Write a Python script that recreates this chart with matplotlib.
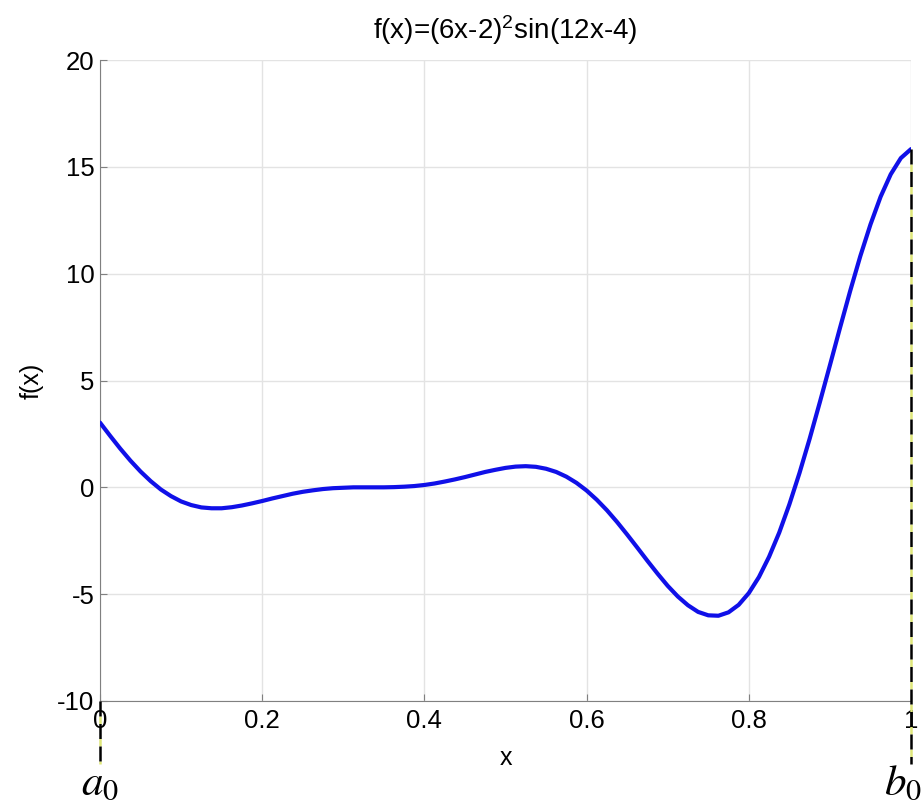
import matplotlib.pyplot as plt
import numpy as np

plt.rcParams['font.family'] = ['Liberation Sans', 'DejaVu Sans']
plt.rcParams['mathtext.fontset'] = 'stix'
plt.rcParams['axes.unicode_minus'] = False

# curve values
xs = [0.0, 0.0125, 0.025, 0.0375, 0.05, 0.0625, 0.075, 0.0875, 0.1, 0.1125,
      0.125, 0.1375, 0.15, 0.1625, 0.175, 0.1875, 0.2, 0.2125, 0.225, 0.2375,
      0.25, 0.2625, 0.275, 0.2875, 0.3, 0.3125, 0.325, 0.3375, 0.35, 0.3625,
      0.375, 0.3875, 0.4, 0.4125, 0.425, 0.4375, 0.45, 0.4625, 0.475, 0.4875,
      0.5, 0.5125, 0.525, 0.5375, 0.55, 0.5625, 0.575, 0.5875, 0.6, 0.6125,
      0.625, 0.6375, 0.65, 0.6625, 0.675, 0.6875, 0.7, 0.7125, 0.725, 0.7375,
      0.75, 0.7625, 0.775, 0.7875, 0.8, 0.8125, 0.825, 0.8375, 0.85, 0.8625,
      0.875, 0.8875, 0.9, 0.9125, 0.925, 0.9375, 0.95, 0.9625, 0.975, 0.9875,
      1.0]
fx = [3.03, 2.41, 1.81, 1.25, 0.74, 0.29, -0.10, -0.41, -0.66, -0.83,
      -0.94, -0.98, -0.98, -0.93, -0.85, -0.75, -0.64, -0.52, -0.41, -0.30,
      -0.21, -0.14, -0.08, -0.04, -0.02, 0.0, 0.0, 0.0, 0.0, 0.01,
      0.03, 0.06, 0.11, 0.18, 0.27, 0.37, 0.48, 0.60, 0.72, 0.82,
      0.91, 0.97, 0.99, 0.96, 0.87, 0.72, 0.50, 0.21, -0.15, -0.58,
      -1.07, -1.62, -2.21, -2.82, -3.44, -4.04, -4.61, -5.11, -5.52, -5.83,
      -5.99, -6.01, -5.85, -5.50, -4.95, -4.20, -3.25, -2.12, -0.80, 0.67,
      2.27, 3.97, 5.71, 7.47, 9.19, 10.82, 12.30, 13.60, 14.65, 15.41,
      15.83]

# bracket ends
a0 = 0.0
b0 = 1.0
marker_bottom = -12.95

xticks = [0, 0.2, 0.4, 0.6, 0.8, 1]
yticks = [-10, -5, 0, 5, 10, 15, 20]

fig = plt.figure(figsize=(9.22, 8.07), dpi=100)
ax = fig.add_axes([100/922, 1 - 701/807, 811/922, 641/807])

ax.plot(xs, fx, color='#1010e8', lw=3, zorder=3, solid_capstyle='round')

# dashed markers at the interval ends
ax.plot([a0, a0], [-10, marker_bottom], color='black', ls=(0, (6, 3)),
        gapcolor='#dfe77a', lw=1.8, clip_on=False, zorder=4)
ax.plot([b0, b0], [fx[-1], marker_bottom], color='black', ls=(0, (6, 3)),
        gapcolor='#dfe77a', lw=1.8, clip_on=False, zorder=4)
ax.text(a0, -14.35, '$a_0$', fontsize=31, ha='center', va='baseline')
ax.text(0.9995, 795/807 * 0 + (1 - 795/807), '$b_0$', fontsize=31,
        ha='right', va='baseline', transform=fig.transFigure)

ax.set_xlim(0, 1)
ax.set_ylim(-10, 20)
ax.set_xticks(xticks)
ax.set_xticklabels(['0', '0.2', '0.4', '0.6', '0.8', '1'])
ax.set_yticks(yticks)
ax.grid(True, color='#e3e3e3', lw=1)
ax.set_axisbelow(True)
for s in ['top', 'right']:
    ax.spines[s].set_visible(False)
for s in ['left', 'bottom']:
    ax.spines[s].set_color('#808080')
ax.tick_params(direction='in', length=5, color='#808080', labelsize=18.5)
ax.tick_params(axis='x', pad=6)
ax.tick_params(axis='y', pad=4)

ax.set_title('f(x)=(6x-2)$\\mathregular{^2}$sin(12x-4)', fontsize=20, pad=15)
ax.set_xlabel('x', fontsize=18, labelpad=9)
ax.set_ylabel('f(x)', fontsize=18, labelpad=10)

fig.savefig('out.png', dpi=100)
